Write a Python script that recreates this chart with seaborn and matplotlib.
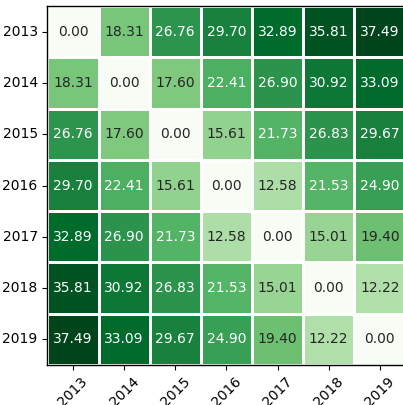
import numpy as np
import seaborn as sns
from matplotlib import pyplot as plt

years = ['2013', '2014', '2015', '2016', '2017', '2018', '2019']
row_2013 = [0.00, 18.31, 26.76, 29.70, 32.89, 35.81, 37.49]
row_2014 = [18.31, 0.00, 17.60, 22.41, 26.90, 30.92, 33.09]
row_2015 = [26.76, 17.60, 0.00, 15.61, 21.73, 26.83, 29.67]
row_2016 = [29.70, 22.41, 15.61, 0.00, 12.58, 21.53, 24.90]
row_2017 = [32.89, 26.90, 21.73, 12.58, 0.00, 15.01, 19.40]
row_2018 = [35.81, 30.92, 26.83, 21.53, 15.01, 0.00, 12.22]
row_2019 = [37.49, 33.09, 29.67, 24.90, 19.40, 12.22, 0.00]

dist = np.array([row_2013, row_2014, row_2015, row_2016, row_2017, row_2018, row_2019])

fig = plt.figure(figsize=(4.03, 4.05), dpi=100)
ax = fig.add_axes([47.4 / 403, 40 / 405, 358 / 403, 359 / 405])
sns.heatmap(dist, annot=True, fmt='.2f', cmap='Greens', cbar=False,
            linewidths=2, linecolor='white', xticklabels=years, yticklabels=years,
            annot_kws={'fontsize': 10}, ax=ax)
plt.xticks(rotation=45)
plt.yticks(rotation=0)
ax.tick_params(axis='both', labelsize=10)
for spine in ax.spines.values():
    spine.set_visible(True)
    spine.set_linewidth(1)
fig.savefig('out.png', dpi=100)
